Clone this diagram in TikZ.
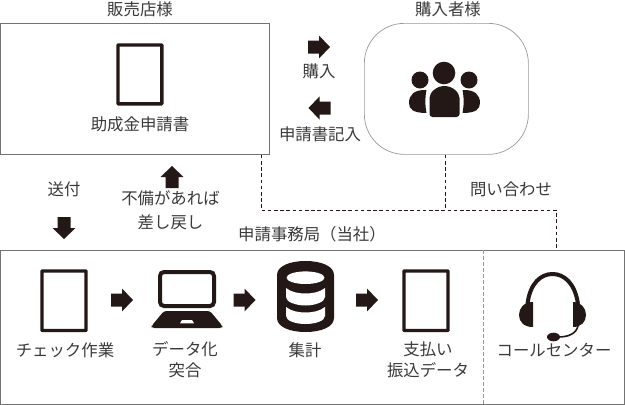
\documentclass[tikz,border=0pt]{standalone}
\usepackage{fontspec}
\setmainfont{Noto Sans CJK JP}
\definecolor{ink}{HTML}{231815}
\definecolor{txt}{HTML}{3A3A3A}
\tikzset{
  x=1pt,y=-1pt,
  lbl/.style={font=\fontsize{16.4}{21}\selectfont,text=txt,align=center,inner sep=0pt},
  framebox/.style={draw=black!55,line width=0.8pt,anchor=north west,inner sep=0pt},
  softbox/.style={draw=black!40,line width=0.7pt,anchor=north west,inner sep=0pt,rounded corners=40pt},
  link/.style={draw=ink,line width=1pt,dash pattern=on 3.6pt off 2.6pt},
  docicon/.style={draw=ink,line width=3.4pt,rounded corners=0.6pt},
  blockarrow/.pic={\fill[ink] (-11,-6.5)--(0,-6.5)--(0,-11.5)--(11,0)--(0,11.5)--(0,6.5)--(-11,6.5)--cycle;}
}
\begin{document}
\begin{tikzpicture}
\useasboundingbox (0,0) rectangle (625,405);
\fill[white] (0,0) rectangle (625,405);
% boxes
\node[framebox,minimum width=268pt,minimum height=131pt] (seller) at (0.5,23) {};
\node[softbox,minimum width=164pt,minimum height=131pt] (buyer) at (364,23) {};
\node[framebox,minimum width=623.5pt,minimum height=154pt] (office) at (0.5,249.5) {};
% divider
\coordinate (divtop) at (483,250);
\draw[black!40,line width=0.7pt,dash pattern=on 3.5pt off 2.5pt] (divtop) -- (divtop |- office.south);
% connectors
\coordinate (jL) at (261,210);
\coordinate (jB) at (445.5,210);
\coordinate (jR) at (556,210);
\draw[link] (seller.south -| jL) -- (jL) -- (jR) -- (office.north -| jR);
\draw[link] (buyer.south -| jB) -- (jB);
% labels
\node[lbl] (t1) at (140,9) {販売店様};
\node[lbl] (t2) at (448,9) {購入者様};
\node[lbl] (t3) at (140,124) {助成金申請書};
\node[lbl] (t4) at (319,71) {購入};
\node[lbl] (t5) at (320,134) {申請書記入};
\node[lbl] (t6) at (64,189) {送付};
\node[lbl] (t7) at (170.5,210) {不備があれば\\[3pt]差し戻し};
\node[lbl] (t8) at (511,189) {問い合わせ};
\node[lbl] (t9) at (312,234) {申請事務局（当社）};
\node[lbl] (t10) at (65,350) {チェック作業};
\node[lbl] (t11) at (185,360) {データ化\\突合};
\node[lbl] (t12) at (305,350) {集計};
\node[lbl] (t13) at (428,360) {支払い\\振込データ};
\node[lbl] (t14) at (554,350) {コールセンター};
% arrows
\pic at (319,47) {blockarrow};
\pic[rotate=180] at (319.5,108) {blockarrow};
\pic[rotate=90] at (172,177) {blockarrow};
\pic[rotate=-90] at (64,228) {blockarrow};
\pic at (122,300) {blockarrow};
\pic at (244.5,300) {blockarrow};
\pic at (367,300) {blockarrow};
% documents
\draw[docicon] (118,45) rectangle (161.8,103.8);
\draw[docicon] (42,271) rectangle (86,330.5);
\draw[docicon] (404,271) rectangle (448,330.5);
% laptop
\draw[ink,line width=4pt,rounded corners=4pt] (160,272) rectangle (214,306);
\fill[ink,rounded corners=2.5pt] (164,311) -- (210,311) -- (222.5,326) -- (222,328) -- (152,328) -- (151.5,326) -- cycle;
\fill[white] (182,320) -- (192,320) -- (194,323.3) -- (180,323.3) -- cycle;
% database
\fill[ink] (277,275) .. controls (277,266) and (290,261) .. (305.5,261) .. controls (321,261) and (334,266) .. (334,275) -- (334,318) .. controls (334,327) and (321,332) .. (305.5,332) .. controls (290,332) and (277,327) .. (277,318) -- cycle;
\fill[white] (305.5,277.7) ellipse[x radius=19,y radius=6.3];
\fill[white] (286,288) .. controls (291,292) and (298,293.5) .. (305.5,293.5) .. controls (313,293.5) and (320,292) .. (325,288) -- (325,297) .. controls (325,302) and (315,305.5) .. (305.5,305.5) .. controls (296,305.5) and (286,302) .. (286,297) -- cycle;
\fill[white] (286,307) .. controls (291,311) and (298,312.5) .. (305.5,312.5) .. controls (313,312.5) and (320,311) .. (325,307) -- (325,316) .. controls (325,321) and (315,324) .. (305.5,324) .. controls (296,324) and (286,321) .. (286,316) -- cycle;
% people
\fill[ink] (444,73) circle[radius=11.3];
\fill[ink] (420,80) circle[radius=8.5];
\fill[ink] (469,80) circle[radius=8.5];
\fill[ink,rounded corners=3pt] (429.5,117) -- (429.5,101) arc[x radius=15,y radius=15,start angle=180,end angle=360] -- (459.5,117) -- cycle;
\fill[ink] (426.5,90) .. controls (414,89.5) and (409,95) .. (409,103) .. controls (409,109) and (413,113) .. (426.5,113) .. controls (425,106) and (425,97) .. (426.5,90) -- cycle;
\fill[ink] (462.5,90) .. controls (475,89.5) and (480,95) .. (480,103) .. controls (480,109) and (476,113) .. (462.5,113) .. controls (464,106) and (464,97) .. (462.5,90) -- cycle;
% headset
\draw[ink,line width=4pt] (527.5,304) .. controls (530,283) and (541,274) .. (552.5,274) .. controls (564,274) and (575,283) .. (578,304);
\fill[ink] (533,302) .. controls (524,302) and (519,308) .. (519,315) .. controls (519,322) and (524,327) .. (533,327) -- cycle;
\fill[ink] (573,302) .. controls (581,302) and (586,308) .. (586,315) .. controls (586,322) and (581,327) .. (573,327) -- cycle;
\draw[ink,line width=1.6pt] (578,326) .. controls (576,334) and (568,337) .. (558,337);
\fill[ink] (553.5,337) ellipse[x radius=6.5,y radius=4.3];
\end{tikzpicture}
\end{document}
